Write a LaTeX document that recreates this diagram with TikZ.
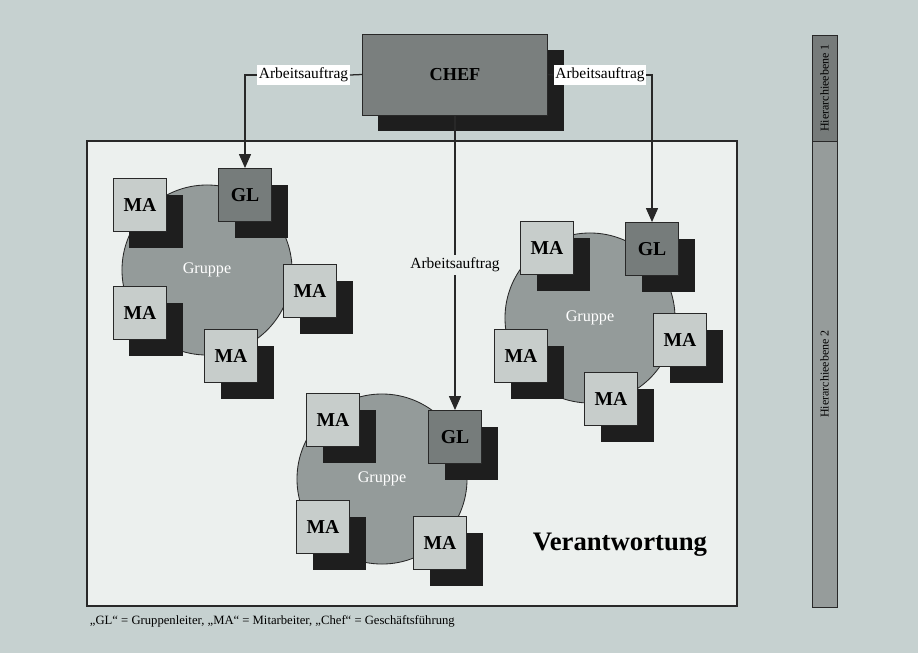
\documentclass[tikz,border=0pt]{standalone}
\usepackage{fontspec}
\setmainfont{Liberation Serif}
\usetikzlibrary{positioning,shadows,arrows.meta}
\definecolor{bgcol}{RGB}{198,209,208}
\definecolor{framecol}{RGB}{236,240,238}
\definecolor{circcol}{RGB}{148,155,154}
\definecolor{macol}{RGB}{199,205,203}
\definecolor{glcol}{RGB}{118,124,123}
\definecolor{chefcol}{RGB}{122,127,126}
\definecolor{shadowcol}{RGB}{30,30,30}
\definecolor{lvlone}{RGB}{118,123,122}
\definecolor{lvltwo}{RGB}{150,156,155}
\definecolor{linecol}{RGB}{40,40,40}

\begin{document}
\begin{tikzpicture}[x=0.025cm, y=-0.025cm,
    member/.style={rectangle, draw=linecol, line width=0.6pt, minimum size=1.325cm, inner sep=0pt, font=\bfseries\fontsize{14}{14}\selectfont,
        drop shadow={shadow xshift=0.4cm, shadow yshift=-0.4cm, fill=shadowcol, opacity=1}},
    mabox/.style={member, fill=macol},
    glbox/.style={member, fill=glcol},
    groupnode/.style={circle, draw=linecol, line width=0.6pt, fill=circcol, minimum size=4.25cm, text=white, font=\fontsize{11.5}{11.5}\selectfont},
    order/.style={fill=white, inner xsep=1pt, inner ysep=2pt, font=\fontsize{11}{11}\selectfont},
    flow/.style={draw=linecol, line width=0.9pt},
    level/.style={draw=linecol, line width=0.6pt, rotate=90, minimum height=0.625cm, inner sep=0pt, font=\fontsize{8.5}{8.5}\selectfont},]
    % background and frame
    \fill[bgcol] (0,0) rectangle (918,653);
    \draw[draw=linecol, fill=framecol, line width=0.8pt] (87,141) rectangle (737,606);
    % hierarchy bar
    \node[level, fill=lvlone, minimum width=2.65cm]  (lvl1) at (824.5,88)  {Hierarchieebene 1};
    \node[level, fill=lvltwo, minimum width=11.65cm] (lvl2) at (824.5,374) {Hierarchieebene 2};
    % chef
    \node[rectangle, draw=linecol, line width=0.6pt, fill=chefcol, minimum width=4.625cm, minimum height=2.025cm,
        font=\bfseries\fontsize{13}{13}\selectfont,
        drop shadow={shadow xshift=0.4cm, shadow yshift=-0.4cm, fill=shadowcol, opacity=1}] (chef) at (455,74.5) {CHEF};
    % groups
    \node[groupnode] (g1) at (207,270) {Gruppe};
    \node[groupnode] (g2) at (382,479) {Gruppe};
    \node[groupnode] (g3) at (590,318) {Gruppe};
    % group 1
    \node[mabox] (g1ma1) at (140,205) {MA};
    \node[glbox] (g1gl)  at (245,195) {GL};
    \node[mabox] (g1ma2) at (310,291) {MA};
    \node[mabox] (g1ma3) at (140,313) {MA};
    \node[mabox] (g1ma4) at (231,356) {MA};
    % group 2
    \node[mabox] (g2ma1) at (333,420) {MA};
    \node[glbox] (g2gl)  at (455,437) {GL};
    \node[mabox] (g2ma2) at (323,527) {MA};
    \node[mabox] (g2ma3) at (440,543) {MA};
    % group 3
    \node[mabox] (g3ma1) at (547,248) {MA};
    \node[glbox] (g3gl)  at (652,249) {GL};
    \node[mabox] (g3ma2) at (680,340) {MA};
    \node[mabox] (g3ma3) at (521,356) {MA};
    \node[mabox] (g3ma4) at (611,399) {MA};
    % orders
    \node[order] (lab1) at (303.5,75) {Arbeitsauftrag};
    \node[order] (lab2) at (600,75)   {Arbeitsauftrag};
    \node[order, fill=framecol] (lab3) at (455,265) {Arbeitsauftrag};
    \draw[flow] (chef.west) -- (lab1.east);
    \draw[flow, -{Triangle[width=0.3cm,length=0.35cm]}] (lab1.west) -| (g1gl.north);
    \draw[flow] (chef.east) -- (lab2.west);
    \draw[flow, -{Triangle[width=0.3cm,length=0.35cm]}] (lab2.east) -| (g3gl.north);
    \draw[flow] (chef.south) -- (lab3.north);
    \draw[flow, -{Triangle[width=0.3cm,length=0.35cm]}] (lab3.south) -- (g2gl.north);
    % texts
    \node[font=\bfseries\fontsize{19}{19}\selectfont] (resp) at (620,545) {Verantwortung};
    \node[anchor=west, font=\fontsize{9}{9}\selectfont] (note) at (85,621) {„GL“ = Gruppenleiter, „MA“ = Mitarbeiter, „Chef“ = Geschäftsführung};
\end{tikzpicture}
\end{document}
